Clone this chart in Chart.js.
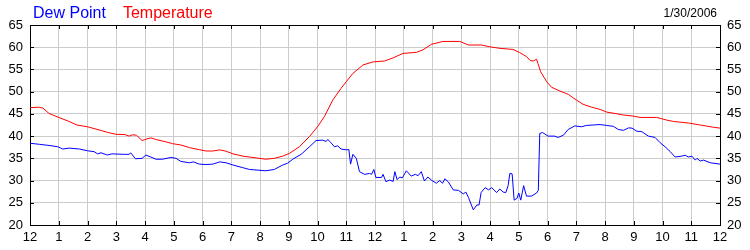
<!DOCTYPE html>
<html>
<head>
<meta charset="utf-8">
<script src="https://cdn.jsdelivr.net/npm/chart.js@4"></script>
<style>
  body { margin: 0; background: #fff; }
  canvas { display: block; }
</style>
</head>
<body>
<canvas id="chartCanvas" width="750" height="250"></canvas>
<script>
// Data
const chartDate = "1/30/2006";
const hourLabels = ["12", "1", "2", "3", "4", "5", "6", "7", "8", "9", "10", "11",
  "12", "1", "2", "3", "4", "5", "6", "7", "8", "9", "10", "11", "12"];

const tempHours = [0, 0.3, 0.45, 0.66, 1.0, 1.36, 1.63, 2.0, 2.4, 2.69, 3.0, 3.3, 3.45, 3.57, 3.7,
  3.9, 4.03, 4.2, 4.4, 4.73, 4.96, 5.25, 5.55, 5.89, 6.12, 6.36, 6.6, 6.82, 7.06, 7.44, 7.63,
  8.2, 8.5, 8.79, 9.02, 9.37, 9.72, 10.0, 10.24, 10.53, 10.82, 11.0, 11.23, 11.58, 11.93,
  12.33, 12.63, 12.97, 13.44, 13.67, 13.96, 14.36, 14.95, 15.25, 15.7, 15.99, 16.34, 16.8,
  17.03, 17.27, 17.4, 17.5, 17.62, 17.67, 17.76, 17.97, 18.14, 18.43, 18.72, 19.01, 19.24,
  19.54, 19.83, 20.06, 20.35, 20.64, 20.99, 21.22, 21.8, 22.15, 22.38, 22.9, 23.31, 23.77, 24.0];
const tempValues = [46.4, 46.5, 46.3, 45.1, 44.2, 43.3, 42.5, 42.1, 41.4, 40.85, 40.4, 40.35, 40.0, 40.3, 40.2,
  39.0, 39.3, 39.6, 39.2, 38.7, 38.3, 38.0, 37.4, 36.95, 36.65, 36.65, 36.9, 36.6, 36.0, 35.45, 35.3,
  34.8, 35.0, 35.5, 36.1, 37.6, 39.9, 42.1, 44.4, 48.1, 50.75, 52.25, 54.1, 56.0, 56.7,
  56.9, 57.6, 58.6, 58.85, 59.4, 60.65, 61.3, 61.3, 60.5, 60.5, 60.1, 59.75, 59.5,
  58.8, 57.9, 57.0, 56.9, 57.3, 56.3, 54.5, 52.25, 51.0, 50.15, 49.4, 48.1, 47.15,
  46.5, 46.0, 45.4, 45.1, 44.75, 44.5, 44.2, 44.2, 43.6, 43.3, 42.95, 42.5, 42.0, 41.8];

const dewHours = [0, 0.33, 0.66, 0.97, 1.14, 1.36, 1.72, 2.0, 2.23, 2.35, 2.47, 2.69, 2.85, 3.28, 3.45,
  3.5, 3.67, 3.9, 4.03, 4.2, 4.38, 4.61, 4.9, 5.08, 5.25, 5.55, 5.68, 5.89, 6.12, 6.36, 6.6,
  6.82, 7.06, 7.4, 7.63, 8.2, 8.5, 8.79, 8.96, 9.14, 9.43, 9.72, 9.95, 10.18, 10.3, 10.36,
  10.47, 10.59, 10.7, 10.82, 11.0, 11.09, 11.15, 11.23, 11.35, 11.46, 11.64, 11.81, 11.88,
  11.96, 12.03, 12.23, 12.28, 12.38, 12.51, 12.63, 12.69, 12.77, 12.86, 12.95, 13.09, 13.26,
  13.4, 13.5, 13.61, 13.72, 13.84, 13.96, 14.13, 14.25, 14.35, 14.43, 14.55, 14.72, 14.9,
  15.07, 15.16, 15.25, 15.42, 15.54, 15.62, 15.69, 15.83, 15.95, 16.06, 16.23, 16.34, 16.46,
  16.55, 16.63, 16.69, 16.77, 16.84, 16.94, 17.0, 17.07, 17.17, 17.27, 17.44, 17.62, 17.68,
  17.73, 17.83, 18.02, 18.25, 18.37, 18.55, 18.72, 18.95, 19.18, 19.35, 19.83, 20.06, 20.29,
  20.46, 20.64, 20.82, 20.94, 21.11, 21.28, 21.51, 21.74, 21.92, 22.09, 22.27, 22.44, 22.67,
  22.79, 22.9, 23.02, 23.14, 23.2, 23.31, 23.43, 23.66, 24.0];
const dewValues = [38.4, 38.15, 37.9, 37.6, 37.1, 37.3, 37.1, 36.7, 36.5, 36.0, 36.25, 35.75, 36.0, 35.9, 35.9,
  36.25, 34.9, 35.0, 35.75, 35.3, 34.8, 34.8, 35.2, 35.0, 34.3, 34.0, 34.2, 33.7, 33.6, 33.7, 34.2,
  34.0, 33.5, 32.9, 32.5, 32.2, 32.5, 33.5, 33.9, 34.8, 35.9, 37.6, 39.0, 39.1, 38.8, 39.25,
  38.5, 37.6, 37.8, 37.1, 36.9, 37.0, 33.7, 35.9, 35.0, 32.0, 31.4, 31.6, 31.4,
  32.5, 30.7, 30.7, 31.4, 29.75, 30.1, 29.8, 32.0, 30.2, 30.8, 30.6, 32.2, 31.0,
  31.4, 31.1, 32.0, 29.9, 30.8, 30.1, 29.4, 30.0, 29.4, 30.4, 29.7, 27.9, 27.8,
  27.0, 27.4, 26.2, 23.4, 24.5, 24.5, 27.3, 28.4, 27.9, 28.4, 27.3, 28.1, 27.4,
  27.3, 28.85, 31.6, 31.5, 25.6, 26.0, 27.2, 25.6, 28.85, 26.5, 26.5, 27.2, 27.8,
  40.6, 40.8, 40.0, 40.0, 39.7, 40.2, 41.5, 42.3, 42.1, 42.4, 42.6, 42.4, 42.2,
  41.5, 41.3, 41.85, 41.8, 41.1, 41.0, 40.0, 39.7, 38.5, 37.6, 36.5, 35.3, 35.5,
  35.7, 35.3, 35.5, 34.6, 35.0, 34.4, 34.6, 34.0, 33.7];

const toPoints = (hours, values) => hours.map((h, i) => ({ x: h, y: values[i] }));

const fontFamily = "'Liberation Sans', Arial, sans-serif";
const gridColor = "#cccccc";

// inward tick marks on all four sides
const innerTicks = {
  id: "innerTicks",
  afterDraw(chart) {
    const { ctx, chartArea } = chart;
    const xs = chart.scales.x;
    const ys = chart.scales.y;
    ctx.save();
    ctx.strokeStyle = "#000";
    ctx.lineWidth = 1;
    ctx.beginPath();
    xs.ticks.forEach(t => {
      const px = Math.round(xs.getPixelForValue(t.value)) + 0.5;
      ctx.moveTo(px, chartArea.bottom);
      ctx.lineTo(px, chartArea.bottom - 4);
      ctx.moveTo(px, chartArea.top);
      ctx.lineTo(px, chartArea.top + 4);
    });
    ys.ticks.forEach(t => {
      const py = Math.round(ys.getPixelForValue(t.value)) + 0.5;
      ctx.moveTo(chartArea.left, py);
      ctx.lineTo(chartArea.left + 4, py);
      ctx.moveTo(chartArea.right, py);
      ctx.lineTo(chartArea.right - 4, py);
    });
    ctx.stroke();
    ctx.restore();
  }
};

// coloured series names at top-left, date at top-right
const headerText = {
  id: "headerText",
  afterDraw(chart) {
    const { ctx, chartArea } = chart;
    ctx.save();
    ctx.textBaseline = "alphabetic";
    ctx.font = "16px " + fontFamily;
    let x = 33;
    ["dew", "temp"].forEach(key => {
      const ds = chart.data.datasets.find(d => d.key === key);
      ctx.fillStyle = ds.borderColor;
      ctx.textAlign = "left";
      ctx.fillText(ds.label, x, 18);
      x += ctx.measureText(ds.label).width + 17;
    });
    ctx.font = "12px " + fontFamily;
    ctx.fillStyle = "#000";
    ctx.textAlign = "right";
    ctx.fillText(chartDate, chartArea.right - 3, 17);
    ctx.restore();
  }
};

const ctx = document.getElementById("chartCanvas").getContext("2d");

const chart = new Chart(ctx, {
  type: "line",
  data: {
    datasets: [
      {
        key: "temp",
        label: "Temperature",
        data: toPoints(tempHours, tempValues),
        borderColor: "#ff0000",
        borderWidth: 1,
        pointRadius: 0,
        tension: 0,
        xAxisID: "x",
        yAxisID: "y"
      },
      {
        key: "dew",
        label: "Dew Point",
        data: toPoints(dewHours, dewValues),
        borderColor: "#0000ff",
        borderWidth: 1,
        pointRadius: 0,
        tension: 0,
        xAxisID: "x",
        yAxisID: "y"
      }
    ]
  },
  options: {
    responsive: false,
    animation: false,
    layout: { padding: 0 },
    plugins: {
      legend: { display: false },
      tooltip: { enabled: false }
    },
    scales: {
      x: {
        type: "linear",
        position: "bottom",
        min: 0,
        max: 24,
        afterFit: s => { s.height = 25; },
        grid: { color: gridColor, drawTicks: false },
        border: { color: "#000" },
        ticks: {
          stepSize: 1,
          autoSkip: false,
          maxRotation: 0,
          padding: 5,
          color: "#000",
          font: { family: fontFamily, size: 13 },
          callback: v => hourLabels[v]
        }
      },
      x2: {
        type: "linear",
        position: "top",
        min: 0,
        max: 24,
        afterFit: s => { s.height = 25; },
        grid: { drawOnChartArea: false, drawTicks: false },
        border: { color: "#000" },
        ticks: { display: false, stepSize: 1 }
      },
      y: {
        position: "left",
        min: 20,
        max: 65,
        afterFit: s => { s.width = 30; },
        grid: { color: gridColor, drawTicks: false },
        border: { color: "#000" },
        ticks: {
          stepSize: 5,
          padding: 7,
          color: "#000",
          font: { family: fontFamily, size: 13 }
        }
      },
      y2: {
        position: "right",
        min: 20,
        max: 65,
        afterFit: s => { s.width = 30; },
        grid: { drawOnChartArea: false, drawTicks: false },
        border: { color: "#000" },
        ticks: {
          stepSize: 5,
          padding: 7,
          color: "#000",
          font: { family: fontFamily, size: 13 }
        }
      }
    }
  },
  plugins: [innerTicks, headerText]
});
</script>
</body>
</html>
